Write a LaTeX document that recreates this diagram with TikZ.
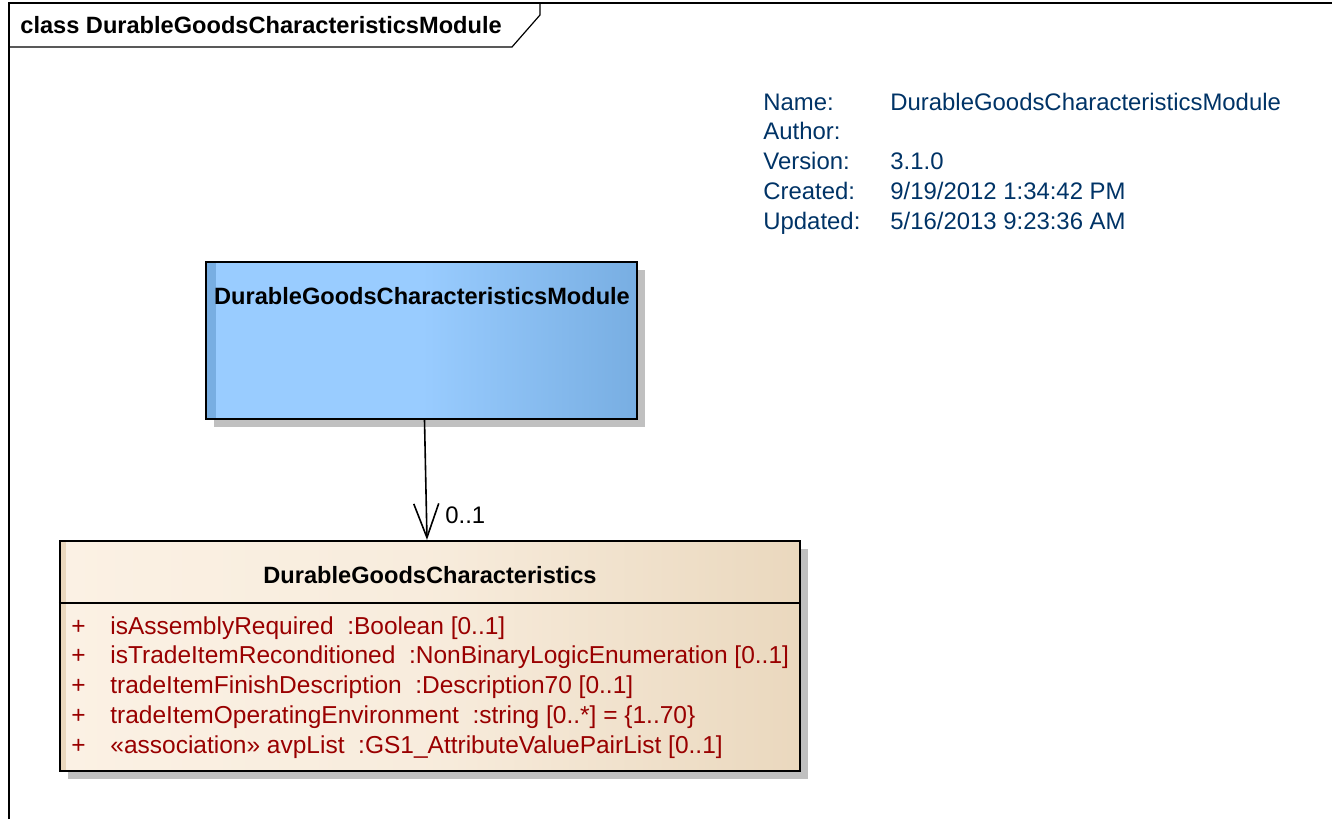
\documentclass[tikz,border=0pt]{standalone}
\usepackage{fontspec}
\setmainfont{Liberation Sans}
\usetikzlibrary{arrows.meta,positioning,shadows}
\definecolor{umlblue}{RGB}{153,204,255}
\definecolor{umlbluedark}{RGB}{120,174,226}
\definecolor{umlbeige}{RGB}{251,241,228}
\definecolor{umlbeigedark}{RGB}{234,216,190}
\definecolor{umlshadow}{RGB}{192,192,192}
\definecolor{attrred}{RGB}{153,0,0}
\definecolor{infoblue}{RGB}{0,51,102}

\tikzset{
  umltext/.style={font=\fontsize{11.95}{14}\selectfont, inner sep=0pt},
  attrtext/.style={font=\fontsize{12.25}{14}\selectfont, inner sep=0pt, attrred},
  umlbold/.style={font=\fontsize{11.8}{14}\selectfont\bfseries, inner sep=0pt},
  frameline/.style={line width=0.6pt, black},
  umlbox/.style={draw=black, line width=1.1pt, inner sep=0pt,
    drop shadow={shadow xshift=4pt, shadow yshift=-4pt, fill=umlshadow, opacity=1}},
  modulebox/.style={umlbox, minimum width=215.5pt, minimum height=78.5pt,
    left color=umlblue, right color=umlbluedark, middle color=umlblue,
    path picture={\fill[umlbluedark] (path picture bounding box.north west)
      rectangle ([xshift=5pt]path picture bounding box.south west);}},
  classbox/.style={umlbox, minimum width=370pt, minimum height=115pt,
    left color=umlbeige, right color=umlbeigedark, middle color=umlbeige!80!umlbeigedark,
    path picture={\fill[umlbeigedark] (path picture bounding box.north west)
      rectangle ([xshift=3pt]path picture bounding box.south west);}},
  assoc/.style={line width=0.8pt, -{Straight Barb[length=17pt,width=12.5pt,line width=0.8pt]}}
}

\begin{document}
\begin{tikzpicture}[x=0.5pt,y=-0.5pt,>=Stealth]
    \useasboundingbox (0,0) rectangle (1332,819);

    % Diagram frame
    \draw[frameline] (9,819) -- (9,3) -- (1332,3);
    \draw[frameline] (540,3) -- (540,15) -- (512,47) -- (9,47);
    \node[umlbold, anchor=base west] (frametitle) at (20,33) {class DurableGoodsCharacteristicsModule};

    % Diagram properties
    \foreach \lbl/\val [count=\i from 0] in {Name:/DurableGoodsCharacteristicsModule, Author:/{}, Version:/3.1.0,
        Created:/{9/19/2012 1:34:42 PM}, Updated:/{5/16/2013 9:23:36 AM}} {
        \node[umltext, infoblue, anchor=base west] (infolbl\i) at (763,110+29.75*\i) {\lbl};
        \node[umltext, infoblue, anchor=base west] (infoval\i) at (890,110+29.75*\i) {\val};
    }

    % Module class
    \node[modulebox] (module) at (421.5,340.5) {};
    \node[umlbold, anchor=base] (moduletitle) at (422,304) {DurableGoodsCharacteristicsModule};

    % Characteristics class
    \node[classbox] (chars) at (430,656) {};
    \node[umlbold, anchor=base] (charstitle) at (430,583) {DurableGoodsCharacteristics};
    \draw[line width=1.1pt] (chars.west |- 0,603) -- (chars.east |- 0,603);
    \foreach \attr [count=\i from 0] in {
        isAssemblyRequired\ \ :Boolean [0..1],
        isTradeItemReconditioned\ \ :NonBinaryLogicEnumeration [0..1],
        tradeItemFinishDescription\ \ :Description70 [0..1],
        {tradeItemOperatingEnvironment\ \ :string [0..*] = \{1..70\}},
        «association» avpList\ \ :GS1\_AttributeValuePairList [0..1]} {
        \node[attrtext, anchor=base west] (plus\i) at (71,634+29.8*\i) {+};
        \node[attrtext, anchor=base west] (attr\i) at (110,634+29.8*\i) {\attr};
    }

    % Association
    \draw[assoc] ([xshift=1.5pt]module.south) -- ([xshift=-1.5pt]chars.north);
    \node[umltext, anchor=base west] (mult) at (445,523) {0..1};
\end{tikzpicture}
\end{document}
